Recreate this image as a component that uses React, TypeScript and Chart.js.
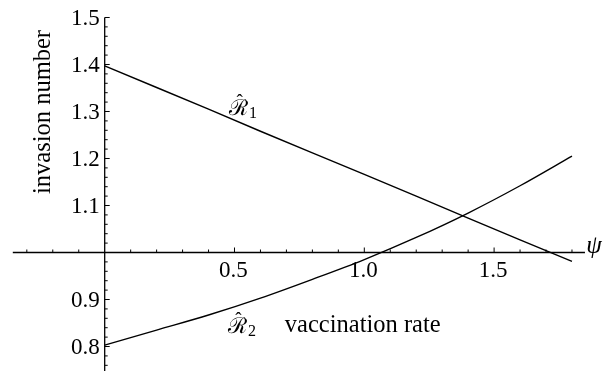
import React, { useEffect, useRef } from "react";
import { Chart, registerables } from "chart.js";

Chart.register(...registerables);

// ---- data ----
const psi = [0, 0.2, 0.4, 0.6, 0.8, 1.0, 1.2, 1.4, 1.6, 1.8];
const r1 = [1.397, 1.351, 1.305, 1.258, 1.212, 1.166, 1.12, 1.073, 1.027, 0.981];
const r2 = [0.803, 0.835, 0.867, 0.903, 0.943, 0.985, 1.032, 1.084, 1.142, 1.205];

const xTickLabels = [0.5, 1.0, 1.5];
const yTickLabels = [0.8, 0.9, 1.1, 1.2, 1.3, 1.4, 1.5];
const xMinorTicks = [-0.3, -0.2, -0.1, 0.1, 0.2, 0.3, 0.4, 0.6, 0.7, 0.8, 0.9, 1.1, 1.2, 1.3, 1.4, 1.6, 1.7, 1.8];
const yMinorStep = 0.02;

const FONT = "'Liberation Serif', 'Times New Roman', serif";

const axesPlugin = {
  id: "mmaAxes",
  beforeDatasetsDraw(chart: any) {
    const { ctx, scales } = chart;
    const xs = scales.x;
    const ys = scales.y;
    const X = (v: number) => xs.getPixelForValue(v);
    const Y = (v: number) => ys.getPixelForValue(v);
    ctx.save();
    ctx.strokeStyle = "#000";
    ctx.fillStyle = "#000";
    ctx.lineWidth = 1.3;
    const y0 = Y(1);
    const x0 = X(0);
    ctx.beginPath();
    ctx.moveTo(X(-0.354), y0);
    ctx.lineTo(X(1.85), y0);
    ctx.stroke();
    ctx.beginPath();
    ctx.moveTo(x0, Y(0.7));
    ctx.lineTo(x0, Y(1.5));
    ctx.stroke();
    ctx.lineWidth = 1;
    xMinorTicks.forEach((v) => {
      ctx.beginPath();
      ctx.moveTo(X(v), y0);
      ctx.lineTo(X(v), y0 - 3);
      ctx.stroke();
    });
    xTickLabels.forEach((v) => {
      ctx.beginPath();
      ctx.moveTo(X(v), y0);
      ctx.lineTo(X(v), y0 - 5);
      ctx.stroke();
    });
    for (let k = 0; ; k++) {
      const v = 1.5 - k * yMinorStep;
      if (v < 0.7) break;
      const major = Math.abs(v * 10 - Math.round(v * 10)) < 1e-6;
      ctx.beginPath();
      ctx.moveTo(x0, Y(v));
      ctx.lineTo(x0 + (major ? 5 : 3), Y(v));
      ctx.stroke();
    }
    ctx.font = `23px ${FONT}`;
    ctx.textAlign = "center";
    ctx.textBaseline = "middle";
    xTickLabels.forEach((v) => {
      ctx.fillText(v.toFixed(1), X(v) - 1, y0 + 18);
    });
    ctx.textAlign = "right";
    yTickLabels.forEach((v) => {
      ctx.fillText(v.toFixed(1), x0 - 5, Y(v) + 1);
    });
    ctx.font = `24.5px ${FONT}`;
    ctx.textAlign = "left";
    ctx.textBaseline = "alphabetic";
    ctx.fillText("vaccination rate", X(0.694), Y(0.8309));
    ctx.save();
    ctx.translate(X(-0.234), Y(1.2989));
    ctx.rotate(-Math.PI / 2);
    ctx.textAlign = "center";
    ctx.textBaseline = "middle";
    ctx.fillText("invasion number", 0, 0);
    ctx.restore();
    ctx.font = `italic 25px ${FONT}`;
    ctx.textAlign = "center";
    ctx.textBaseline = "middle";
    ctx.fillText("ψ", X(1.885), Y(1.0138));
    const drawR = (sub: string, px: number, py: number) => {
      ctx.textAlign = "left";
      ctx.textBaseline = "alphabetic";
      ctx.font = `22px ${FONT}`;
      ctx.fillText("ℛ", px, py);
      const w = ctx.measureText("ℛ").width;
      ctx.textAlign = "center";
      ctx.font = `19px ${FONT}`;
      ctx.fillText("ˆ", px + w / 2 + 1, py - 8);
      ctx.textAlign = "left";
      ctx.font = `16px ${FONT}`;
      ctx.fillText(sub, px + w + 1, py + 3);
    };
    drawR("1", X(0.479), Y(1.2926));
    drawR("2", X(0.475), Y(0.8287));
    ctx.restore();
  },
};

export default function App() {
  const ref = useRef<HTMLCanvasElement | null>(null);
  useEffect(() => {
    if (!ref.current) return;
    const chart = new Chart(ref.current, {
      type: "line",
      data: {
        labels: psi,
        datasets: [
          {
            label: "R1",
            data: psi.map((x, i) => ({ x, y: r1[i] })),
            borderColor: "#000",
            borderWidth: 1.4,
            pointRadius: 0,
            tension: 0,
            fill: false,
          },
          {
            label: "R2",
            data: psi.map((x, i) => ({ x, y: r2[i] })),
            borderColor: "#000",
            borderWidth: 1.4,
            pointRadius: 0,
            cubicInterpolationMode: "monotone",
            fill: false,
          },
        ],
      },
      options: {
        animation: false,
        responsive: true,
        maintainAspectRatio: false,
        layout: { padding: 0 },
        plugins: { legend: { display: false }, tooltip: { enabled: false } },
        events: [],
        scales: {
          x: { type: "linear", min: -0.4033, max: 1.9426, display: false },
          y: { type: "linear", min: 0.7479, max: 1.5372, display: false },
        },
      },
      plugins: [axesPlugin],
    } as any);
    return () => chart.destroy();
  }, []);
  return (
    <div style={{ position: "fixed", left: 0, top: 0, width: 609, height: 371, background: "#fff" }}>
      <canvas ref={ref} />
    </div>
  );
}
